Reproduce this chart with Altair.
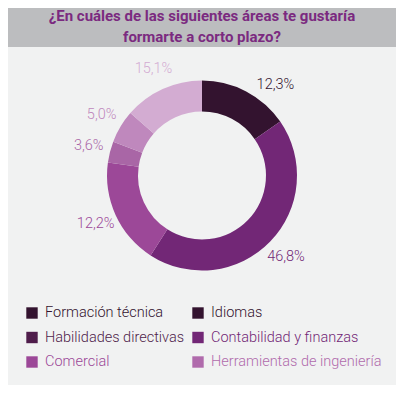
import altair as alt
import pandas as pd

# ---- data ----
title_lines = ["¿En cuáles de las siguientes áreas te gustaría", "formarte a corto plazo?"]

slice_names = ["s1", "s2", "s3", "s4", "s5", "s6"]
slice_shares = [15.4, 43.7, 18.1, 3.6, 5.6, 13.6]          # arc sizes as drawn
slice_labels = ["12,3%", "46,8%", "12,2%", "3,6%", "5,0%", "15,1%"]
slice_colors = ["#33132f", "#722776", "#9c4898", "#a966a6", "#bf88bd", "#d3acd2"]

legend_names = ["Formación técnica", "Idiomas", "Habilidades directivas",
                "Contabilidad y finanzas", "Comercial", "Herramientas de ingeniería"]
legend_cols = [0, 1, 0, 1, 0, 1]
legend_rows = [0, 0, 1, 1, 2, 2]
legend_colors = ["#33132f", "#33132f", "#4f1d4b", "#722776", "#9c4898", "#b06bac"]

FONT = "Roboto"
W = 388

# ---- title panel ----
tdf = pd.DataFrame({"line": list(range(len(title_lines))), "text": title_lines})
title_panel = alt.Chart(tdf).mark_text(
    font=FONT, fontSize=15, fontWeight="bold", color="#7b2a80", align="center", baseline="middle"
).encode(
    x=alt.value(W / 2),
    y=alt.Y("line:Q", scale=alt.Scale(domain=[0, 1], range=[8, 29]), axis=None),
    text="text:N",
).properties(width=W, height=39, view=alt.ViewBackground(fill="#bcbdbf", stroke=None))

# ---- donut panel ----
ddf = pd.DataFrame({
    "idx": list(range(len(slice_names))),
    "name": slice_names,
    "share": slice_shares,
    "label": slice_labels,
})
total = sum(slice_shares)
color_scale = alt.Scale(domain=slice_names, range=slice_colors)
theta_scale = alt.Scale(domain=[0, total])

base = alt.Chart(ddf).transform_stack(
    stack="share", groupby=[], as_=["s0", "s1"], sort=[alt.SortField("idx", order="ascending")]
).transform_calculate(mid="(datum.s0 + datum.s1) / 2")

arcs = base.mark_arc(innerRadius=64, outerRadius=95, stroke=None).encode(
    theta=alt.Theta("s0:Q", scale=theta_scale),
    theta2="s1:Q",
    color=alt.Color("name:N", scale=color_scale, legend=None),
)

label_style = dict(font=FONT, fontSize=14.5, fontWeight=300, align="center", baseline="middle")
labels_main = base.transform_filter("datum.idx > 0").mark_text(radius=117, **label_style).encode(
    theta=alt.Theta("mid:Q", scale=theta_scale),
    text="label:N",
    color=alt.Color("name:N", scale=color_scale, legend=None),
)
labels_first = base.transform_filter("datum.idx == 0").mark_text(radius=117, dx=19, dy=13, **label_style).encode(
    theta=alt.Theta("mid:Q", scale=theta_scale),
    text="label:N",
    color=alt.Color("name:N", scale=color_scale, legend=None),
)

donut_panel = alt.layer(arcs, labels_main, labels_first).properties(width=W, height=257)

# ---- legend panel ----
ldf = pd.DataFrame({"lname": legend_names, "col": legend_cols, "row": legend_rows})
lcolor = alt.Color("lname:N", scale=alt.Scale(domain=legend_names, range=legend_colors), legend=None)
lx = alt.X("col:Q", scale=alt.Scale(domain=[0, 1], range=[24, 190]), axis=None)
ly = alt.Y("row:Q", scale=alt.Scale(domain=[0, 2], range=[9, 58]), axis=None)

lpts = alt.Chart(ldf).mark_point(shape="square", filled=True, size=130, opacity=1).encode(
    x=lx, y=ly, color=lcolor
)
ltxt = alt.Chart(ldf).mark_text(font=FONT, fontSize=14.5, fontWeight=300, align="left",
                                baseline="middle", dx=13).encode(
    x=lx, y=ly, color=lcolor, text="lname:N"
)
legend_panel = alt.layer(lpts, ltxt).properties(width=W, height=81)

chart = alt.vconcat(title_panel, donut_panel, legend_panel, spacing=0).resolve_scale(
    color="independent", x="independent", y="independent", theta="independent"
).properties(
    padding=0, background="#f1f2f2"
).configure_view(stroke=None).configure_concat(spacing=0)

chart.save("out.html", embed_options={"renderer": "svg", "actions": False})
